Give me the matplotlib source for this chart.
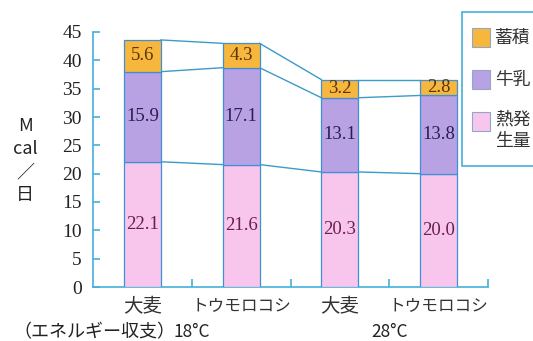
import matplotlib
matplotlib.use("Agg")
import matplotlib.pyplot as plt
from matplotlib.patches import Rectangle
from matplotlib.ticker import FixedLocator
from matplotlib.transforms import blended_transform_factory

# Energy balance per cow (Mcal/day) by feed and temperature
categories = ["大麦", "トウモロコシ", "大麦", "トウモロコシ"]
temps = ["18°C", "28°C"]
heat = [22.1, 21.6, 20.3, 20.0]      # 熱発生量
milk = [15.9, 17.1, 13.1, 13.8]      # 牛乳
store = [5.6, 4.3, 3.2, 2.8]         # 蓄積
yticks = [0, 5, 10, 15, 20, 25, 30, 35, 40, 45]

W, H = 533, 341
AXIS_C = "#46b0d8"
EDGE_C = "#3f8fd6"
LINK_C = "#3a9cc8"
C_STORE = "#f7b73c"
C_MILK = "#b9a2e4"
C_HEAT = "#f8c6ec"

JP = ["Noto Sans CJK JP", "DejaVu Sans"]
SERIF = ["Liberation Serif", "DejaVu Serif"]

fig = plt.figure(figsize=(W / 100, H / 100), dpi=100)


def fx(x):
    return x / W


def fy(y):
    return 1 - y / H


ax = fig.add_axes([fx(93), fy(287), fx(488) - fx(93), fy(32) - fy(287)])

xs = [0.5, 1.5, 2.5, 3.5]
bw = 0.375
bottom2 = [h + m for h, m in zip(heat, milk)]
top = [b + s for b, s in zip(bottom2, store)]

ax.bar(xs, heat, bw, color=C_HEAT, edgecolor=EDGE_C, linewidth=0.9, zorder=3)
ax.bar(xs, milk, bw, bottom=heat, color=C_MILK, edgecolor=EDGE_C, linewidth=0.9, zorder=3)
ax.bar(xs, store, bw, bottom=bottom2, color=C_STORE, edgecolor=EDGE_C, linewidth=0.9, zorder=3)

# connecting lines between neighbouring bars at each layer boundary
for levels in (heat, bottom2, top):
    for i in range(len(xs) - 1):
        ax.plot([xs[i] + bw / 2, xs[i + 1] - bw / 2], [levels[i], levels[i + 1]],
                color=LINK_C, lw=1.0, zorder=2)

# value labels
for i, x in enumerate(xs):
    ax.text(x, heat[i] / 2, f"{heat[i]:.1f}", ha="center", va="center",
            family=SERIF, fontsize=13.5, color="#6a1f50", zorder=4)
    ax.text(x, heat[i] + milk[i] / 2, f"{milk[i]:.1f}", ha="center", va="center",
            family=SERIF, fontsize=13.5, color="#2a1e50", zorder=4)
    ax.text(x, bottom2[i] + store[i] / 2, f"{store[i]:.1f}", ha="center", va="center",
            family=SERIF, fontsize=13.5, color="#5a3410", zorder=4)

ax.set_xlim(0, 4)
ax.set_ylim(0, 45)
for s in ("top", "right"):
    ax.spines[s].set_visible(False)
for s in ("left", "bottom"):
    ax.spines[s].set_color(AXIS_C)
    ax.spines[s].set_linewidth(1.2)

ax.set_yticks(yticks)
ax.set_yticklabels([str(t) for t in yticks], family=SERIF, fontsize=14, color="#222222")
ax.tick_params(axis="y", direction="in", length=5, width=1.2, color=AXIS_C, pad=8)

ax.set_xticks(xs)
ax.set_xticklabels(categories, family=JP, color="#333333")
for lab in ax.get_xticklabels():
    lab.set_fontsize(14 if len(lab.get_text()) <= 2 else 12)
ax.tick_params(axis="x", which="major", length=0, pad=7)
ax.xaxis.set_minor_locator(FixedLocator([1, 2, 3, 4]))
ax.tick_params(axis="x", which="minor", direction="in", length=6, width=1.2, color=AXIS_C)

# y-axis unit, stacked vertically
for txt, yy in (("M", 126), ("cal", 149), ("／", 172), ("日", 195)):
    fig.text(fx(25), fy(yy), txt, ha="center", va="center", family=JP,
             fontsize=13, color="#222222")

# group captions
fig.text(fx(13), fy(332), "（エネルギー収支）", ha="left", va="center", family=JP,
         fontsize=13, color="#222222")
cap_tr = blended_transform_factory(ax.transData, fig.transFigure)
for t, gx in zip(temps, [1, 3]):
    ax.text(gx, fy(332), t, transform=cap_tr, ha="center", va="center",
            family=JP, fontsize=12.5, color="#222222", clip_on=False)

# legend panel (runs past the right edge)
fig.add_artist(Rectangle((fx(462), fy(166)), fx(560) - fx(462), fy(12) - fy(166),
                         transform=fig.transFigure, facecolor="white",
                         edgecolor=AXIS_C, lw=1.2, clip_on=False))
legend_items = [(C_STORE, "蓄積", 28, 38), (C_MILK, "牛乳", 70, 80), (C_HEAT, "熱発\n生量", 112, 130)]
for col, lab, y0, yc in legend_items:
    fig.add_artist(Rectangle((fx(472), fy(y0 + 19)), fx(490) - fx(472), fy(y0) - fy(y0 + 19),
                             transform=fig.transFigure, facecolor=col,
                             edgecolor="#8fa7c8", lw=0.8))
    fig.text(fx(495), fy(yc), lab, ha="left", va="center", family=JP,
             fontsize=12.8, color="#333333", linespacing=1.25)

fig.savefig("out.png", dpi=100)
